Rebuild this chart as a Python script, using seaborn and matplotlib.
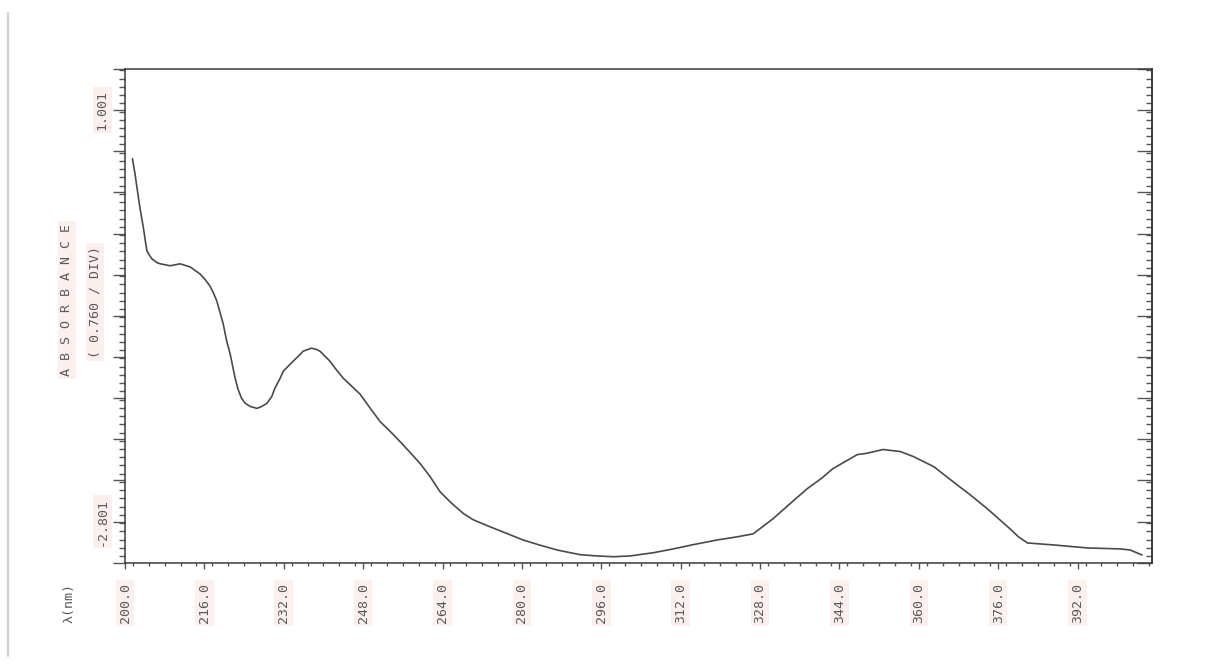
import numpy as np
import matplotlib
matplotlib.use("Agg")
import matplotlib.pyplot as plt
from matplotlib.ticker import MultipleLocator, FixedLocator
import seaborn as sns

# spectrum
wavelength = [201.5, 202.0, 203.0, 203.7, 204.4, 205.0, 205.4, 206.4, 207.1, 209.1,
              211.1, 213.1, 215.1, 216.1, 217.1, 217.8, 218.5, 219.8, 220.5, 221.2,
              222.2, 222.8, 223.5, 224.2, 225.2, 226.6, 227.6, 228.6, 229.6, 230.2,
              231.3, 231.9, 233.9, 235.3, 235.9, 237.6, 238.6, 239.3, 240.3, 241.3,
              242.3, 244.0, 245.7, 247.4, 249.4, 251.4, 253.8, 256.0, 259.5, 261.5,
              263.5, 265.5, 267.1, 268.2, 270.2, 273.6, 277.0, 280.2, 283.7, 287.1,
              291.7, 295.2, 298.5, 301.8, 306.5, 310.5, 314.6, 319.4, 323.3, 326.6,
              330.6, 334.1, 337.5, 340.4, 342.7, 347.6, 349.5, 352.8, 356.3, 358.9,
              363.0, 366.9, 370.4, 373.8, 376.4, 378.4, 380.1, 381.9, 387.1, 394.0,
              400.6, 402.6, 405.0]
absorbance = [0.553, 0.417, 0.102, -0.084, -0.297, -0.344, -0.371, -0.406, -0.418, -0.436,
              -0.418, -0.446, -0.511, -0.560, -0.622, -0.684, -0.761, -0.974, -1.132, -1.252,
              -1.475, -1.580, -1.660, -1.704, -1.735, -1.753, -1.734, -1.707, -1.642, -1.568,
              -1.472, -1.410, -1.317, -1.255, -1.225, -1.197, -1.209, -1.225, -1.271, -1.317,
              -1.379, -1.475, -1.549, -1.623, -1.750, -1.874, -1.982, -2.087, -2.263, -2.384,
              -2.523, -2.615, -2.680, -2.724, -2.782, -2.847, -2.909, -2.968, -3.017, -3.061,
              -3.104, -3.116, -3.123, -3.116, -3.086, -3.051, -3.011, -2.968, -2.940, -2.912,
              -2.773, -2.631, -2.495, -2.399, -2.309, -2.180, -2.168, -2.133, -2.152, -2.198,
              -2.291, -2.430, -2.553, -2.680, -2.785, -2.866, -2.940, -2.996, -3.014, -3.042,
              -3.051, -3.061, -3.107]

x_ticks = [200.0, 216.0, 232.0, 248.0, 264.0, 280.0, 296.0, 312.0, 328.0, 344.0, 360.0, 376.0, 392.0]
y_top_label = 1.001
y_bottom_label = -2.801
y_div = 0.760

sns.set_theme(style="white")
plt.rcParams["font.family"] = ["DejaVu Sans Mono", "DejaVu Sans"]

txt = "#5a5a5a"
bg = "#fcf0ee"
tick_c = "#555555"

fig = plt.figure(figsize=(12.18, 6.69), dpi=100)
ax = fig.add_axes([125 / 1218, 1 - 563 / 669, 1027 / 1218, 494 / 669])

sns.lineplot(x=wavelength, y=absorbance, color="#4a4a4a", linewidth=1.2, ax=ax)

half = y_div / 2
ax.set_xlim(200, 407)
ax.set_ylim(y_bottom_label - half, y_top_label + half)

for s in ax.spines.values():
    s.set_color("#3a3a3a")
    s.set_linewidth(1.1)

# x axis: labelled every 16 nm, small marks every 3.2 nm
ax.xaxis.set_major_locator(FixedLocator(x_ticks))
ax.xaxis.set_minor_locator(MultipleLocator(3.2))
ax.set_xticklabels([f"{v:.1f}" for v in x_ticks], rotation=90, color=txt, fontsize=9.5)
ax.tick_params(axis="x", which="both", bottom=True, top=False)
ax.tick_params(axis="x", which="major", direction="out", length=4.3, width=1, color=tick_c, pad=10)
ax.tick_params(axis="x", which="minor", direction="out", length=2.2, width=1, color=tick_c)
for t in ax.get_xticklabels():
    t.set_bbox(dict(facecolor=bg, edgecolor="none", pad=2))

# y axis: half-division marks, only the end values labelled
y_major = [y_top_label - half * k for k in range(-1, 12)]
y_labels = [""] * len(y_major)
y_labels[1] = f"{y_top_label:.3f}"
y_labels[11] = f"{y_bottom_label:.3f}"
ax.yaxis.set_major_locator(FixedLocator(y_major))
ax.yaxis.set_minor_locator(MultipleLocator(half / 5))
ax.set_yticklabels(y_labels, rotation=90, va="center", color=txt, fontsize=9.5)
ax.tick_params(axis="y", which="both", left=True, right=False)
ax.tick_params(axis="y", which="major", direction="out", length=8.6, width=1, color=tick_c, pad=3)
ax.tick_params(axis="y", which="minor", direction="out", length=4.3, width=1, color=tick_c)
for t in ax.get_yticklabels():
    if t.get_text():
        t.set_bbox(dict(facecolor=bg, edgecolor="none", pad=2))

right = ax.secondary_yaxis("right")
right.yaxis.set_major_locator(FixedLocator(y_major))
right.yaxis.set_minor_locator(MultipleLocator(half / 5))
right.tick_params(which="both", right=True, labelright=False)
right.tick_params(which="major", direction="in", length=11, width=1, color=tick_c)
right.tick_params(which="minor", direction="in", length=4.3, width=1, color=tick_c)
right.spines["right"].set_color("#3a3a3a")

ax.set_xlabel("")
ax.set_ylabel("")
fig.text(67 / 1218, 1 - 300 / 669, "A B S O R B A N C E", rotation=90, ha="center", va="center",
         color=txt, fontsize=9.5, bbox=dict(facecolor=bg, edgecolor="none", pad=2))
fig.text(95 / 1218, 1 - 302 / 669, f"( {y_div:.3f} / DIV)", rotation=90, ha="center", va="center",
         color=txt, fontsize=9.5, bbox=dict(facecolor=bg, edgecolor="none", pad=2))
fig.text(69 / 1218, 1 - 603 / 669, "λ(nm)", rotation=90, ha="center", va="center",
         color=txt, fontsize=9.5)

# faint scan edge on the left
fig.add_artist(plt.Line2D([8 / 1218, 8 / 1218], [0.02, 0.98], color="#cfcfcf", linewidth=1.5))

fig.savefig("out.png", dpi=100, facecolor="white")
